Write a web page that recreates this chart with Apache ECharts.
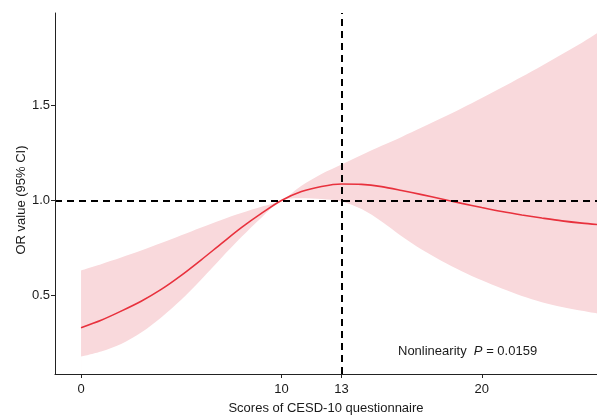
<!DOCTYPE html>
<html>
<head>
<meta charset="utf-8">
<script src="https://cdn.jsdelivr.net/npm/echarts@6/dist/echarts.min.js"></script>
<style>
html,body{margin:0;padding:0;background:#fff;}
#chart{width:597px;height:415px;}
</style>
</head>
<body>
<div id="chart"></div>
<script>
// CESD-10 score grid
const scores = [0,1,2,3,4,5,6,7,8,9,10,11,12,13,14,15,16,17,18,19,20,21,22,23,24,25,25.75];
// Estimated OR
const orValue = [0.331,0.37,0.418,0.47,0.532,0.606,0.688,0.773,0.857,0.932,1.0,1.047,1.074,1.087,1.085,1.073,1.053,1.031,1.008,0.985,0.963,0.942,0.924,0.908,0.893,0.881,0.874];
// 95% CI upper bound
const ciUpper = [0.632,0.665,0.7,0.737,0.776,0.817,0.858,0.898,0.934,0.967,1.0,1.078,1.14,1.19,1.24,1.288,1.335,1.384,1.434,1.486,1.54,1.595,1.652,1.71,1.77,1.83,1.88];
// 95% CI lower bound
const ciLower = [0.178,0.205,0.245,0.305,0.385,0.478,0.585,0.698,0.808,0.91,1.0,1.012,1.008,0.995,0.955,0.89,0.812,0.742,0.682,0.628,0.58,0.537,0.498,0.465,0.44,0.42,0.406];
// tick labels
const xTicks = [0,10,13,20];
const yTicks = [0.5,1.0,1.5];
const refX = 13;
const refY = 1.0;

const font = 'Liberation Sans, Arial, sans-serif';
const chart = echarts.init(document.getElementById('chart'), null, {renderer:'canvas'});

const upperData = scores.map((x,i)=>[x, ciUpper[i]]);
const lowerData = scores.map((x,i)=>[x, ciLower[i]]);
const lineData = scores.map((x,i)=>[x, orValue[i]]);

chart.setOption({
  animation:false,
  backgroundColor:'#fff',
  grid:{left:55,right:0,top:13,bottom:41,containLabel:false,outerBoundsMode:'none'},
  xAxis:{
    type:'value', min:-1.3, max:25.75, z:10,
    name:'Scores of CESD-10 questionnaire', nameLocation:'middle', nameGap:28,
    nameTextStyle:{fontFamily:font,fontSize:13,color:'#1a1a1a'},
    axisLine:{show:true,onZero:false,lineStyle:{color:'#222',width:1}},
    axisTick:{show:true,customValues:xTicks,length:4,lineStyle:{color:'#222'}},
    axisLabel:{show:true,customValues:xTicks,fontFamily:font,fontSize:13,color:'#1a1a1a',margin:9},
    splitLine:{show:false}
  },
  yAxis:{
    type:'value', min:0.087, max:1.987, z:10,
    axisLine:{show:true,onZero:false,lineStyle:{color:'#222',width:1}},
    axisTick:{show:true,customValues:yTicks,length:4,lineStyle:{color:'#222'}},
    axisLabel:{show:true,customValues:yTicks,fontFamily:font,fontSize:13,color:'#1a1a1a',margin:5,
      formatter:v=>v.toFixed(1)},
    splitLine:{show:false}
  },
  series:[
    {type:'line',data:upperData,symbol:'none',smooth:0.3,
     lineStyle:{opacity:0},areaStyle:{color:'#F9D9DC',opacity:1,origin:'start'},silent:true,z:1},
    {type:'line',data:lowerData,symbol:'none',smooth:0.3,
     lineStyle:{opacity:0},areaStyle:{color:'#FFFFFF',opacity:1,origin:'start'},silent:true,z:1.5},
    {type:'line',data:lineData,symbol:'none',smooth:0.3,
     lineStyle:{color:'#E8313D',width:1.6},z:3,
     markLine:{silent:true,symbol:'none',label:{show:false},
       lineStyle:{color:'#000',width:2,type:[7,5]},
       data:[{yAxis:refY},{xAxis:refX}]}}
  ],
  graphic:[
    {type:'text',x:21,y:200,rotation:Math.PI/2,z:100,
     style:{text:'OR value (95% CI)',fontFamily:font,fontSize:13,fill:'#1a1a1a',align:'center',verticalAlign:'middle'}},
    {type:'text',left:398,top:345,z:100,
     style:{text:'{a|Nonlinearity  }{b|P}{a| = 0.0159}',
       rich:{a:{fontFamily:font,fontSize:13,fill:'#1a1a1a'},b:{fontFamily:font,fontSize:13,fontStyle:'italic',fill:'#1a1a1a'}}}}
  ]
});
</script>
</body>
</html>
